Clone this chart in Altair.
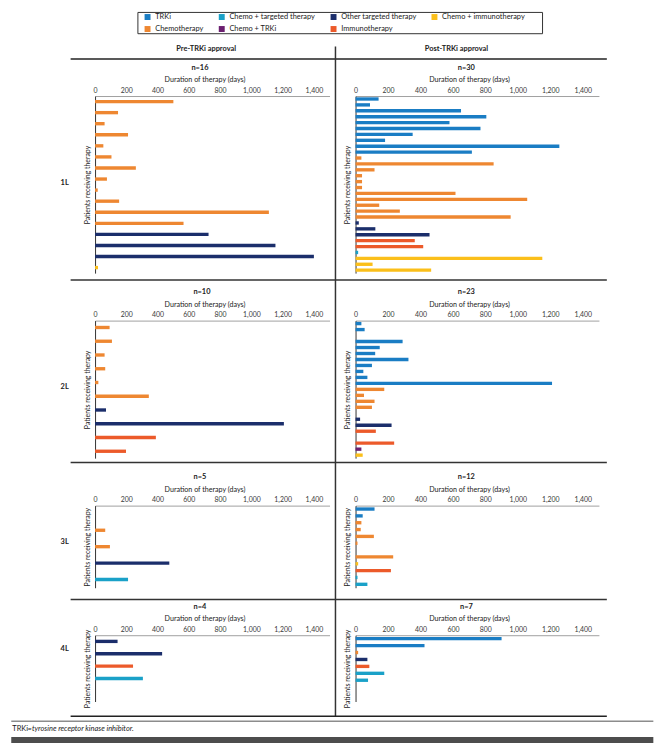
import altair as alt
import pandas as pd

# ---------------- data ----------------
THERAPIES = ["TRKi", "Chemo + targeted therapy", "Other targeted therapy", "Chemo + immunotherapy",
             "Chemotherapy", "Chemo + TRKi", "Immunotherapy"]
COLORS = ["#1a7dc4", "#1aa1c8", "#1b2e6b", "#fbbf1a", "#ee8731", "#6b1f70", "#ec5a2a"]

T = "TRKi"
C = "Chemotherapy"
CT = "Chemo + targeted therapy"
CR = "Chemo + TRKi"
O = "Other targeted therapy"
I = "Immunotherapy"
CI = "Chemo + immunotherapy"

pre_1L_therapy = [C, C, C, C, C, C, C, C, C, C, C, C, O, O, O, CI]
pre_1L_days = [501, 147, 61, 211, 53, 105, 261, 76, 17, 154, 1112, 566, 726, 1154, 1400, 19]

post_1L_therapy = [T, T, T, T, T, T, T, T, T, T,
                   C, C, C, C, C, C, C, C, C, C, C,
                   O, O, O, I, I, CT, CI, CI, CI]
post_1L_days = [142, 89, 650, 806, 579, 770, 352, 182, 1256, 717,
                36, 851, 117, 40, 40, 40, 616, 1058, 146, 273, 956,
                20, 122, 456, 365, 417, 16, 1151, 105, 466]

pre_2L_therapy = [C, C, C, C, C, C, O, O, I, I]
pre_2L_days = [93, 108, 61, 65, 21, 344, 70, 1208, 389, 198]

post_2L_therapy = [T, T, T, T, T, T, T, T, T, T, T,
                   C, C, C, C, C, O, O, I, I, I, CR, CI]
post_2L_days = [36, 56, 0, 290, 149, 121, 326, 101, 48, 73, 1211,
                177, 52, 117, 101, 0, 28, 222, 125, 0, 238, 36, 44]

pre_3L_therapy = [C, C, C, O, CT]
pre_3L_days = [0, 65, 95, 475, 211]

post_3L_therapy = [T, T, C, C, C, C, C, C, CI, I, CT, CT]
post_3L_days = [117, 44, 36, 32, 113, 12, 0, 232, 16, 218, 12, 73]

pre_4L_therapy = [O, O, I, CT]
pre_4L_days = [144, 429, 243, 306]

post_4L_therapy = [T, T, C, O, I, CT, CT]
post_4L_days = [900, 425, 16, 73, 85, 177, 77]

TICKS = [0, 200, 400, 600, 800, 1000, 1200, 1400]
FONT = "Lato"

# ---------------- layout (pixels) ----------------
PRE_W, POST_W = 237, 246
ROW_H = [179, 139, 83, 67]
OX, OY = 92.7, 93.0  # page position of first panel's plot origin

one = pd.DataFrame({"k": [0]})


def hline(x1, x2, y, color="#333333", sw=1.5):
    return alt.Chart(one).mark_rule(color=color, strokeWidth=sw).encode(
        x=alt.value(x1 - OX), x2=alt.value(x2 - OX), y=alt.value(y - OY))


def vline(x, y1, y2, color="#333333", sw=1.5):
    return alt.Chart(one).mark_rule(color=color, strokeWidth=sw).encode(
        x=alt.value(x - OX), y=alt.value(y1 - OY), y2=alt.value(y2 - OY))


def text(x, y, s, size=7.5, weight="normal", align="center", style="normal", color="#222222"):
    return alt.Chart(one).mark_text(font=FONT, fontSize=size, fontWeight=weight, align=align,
                                    baseline="middle", fontStyle=style, color=color).encode(
        x=alt.value(x - OX), y=alt.value(y - OY), text=alt.value(s))


def panel(therapy, days, width, height, n_label, n_x, pad_outer=0.0, extra=0):
    df = pd.DataFrame({"patient": list(range(len(days))), "therapy": therapy, "days": days})
    bars = alt.Chart(df).mark_bar(size=3.4).encode(
        x=alt.X("days:Q",
                scale=alt.Scale(domain=[0, 1500], nice=False, zero=True),
                axis=alt.Axis(orient="top", values=TICKS, format=",.0f", grid=False, ticks=False, tickSize=0,
                              labelFlush=False, labelPadding=3, labelFont=FONT, labelFontSize=7,
                              labelColor="#3a3a3a", domainColor="#a0a0a0", domainWidth=1,
                              title="Duration of therapy (days)", titleFont=FONT, titleFontSize=7.2,
                              titleFontWeight="normal", titleColor="#222222",
                              titleX=width * 1400 / 1500 / 2, titleY=-12.5, titleBaseline="bottom",
                              titleAlign="center")),
        y=alt.Y("patient:O",
                scale=alt.Scale(domain=list(range(len(days) + extra)), paddingInner=0,
                                paddingOuter=pad_outer, align=0),
                axis=alt.Axis(labels=False, ticks=False, grid=False, domainColor="#333333", domainWidth=1,
                              title="Patients receiving therapy", titleFont=FONT, titleFontSize=7,
                              titleFontWeight="normal", titleColor="#222222", titlePadding=5)),
        color=alt.Color("therapy:N",
                        scale=alt.Scale(domain=THERAPIES, range=COLORS),
                        legend=alt.Legend(orient="none", legendX=142 - OX, legendY=9 - OY,
                                          direction="horizontal", columns=4, title=None,
                                          labelFont=FONT, labelFontSize=7.5,
                                          labelColor="#222222", symbolType="square", symbolSize=36,
                                          symbolStrokeWidth=0, columnPadding=14, rowPadding=3.5,
                                          padding=0, labelOffset=4, labelLimit=300)),
    )
    ntext = alt.Chart(one).mark_text(font=FONT, fontSize=7.5, fontWeight="bold", align="center",
                                     baseline="middle", color="#222222").encode(
        x=alt.value(n_x), y=alt.value(-28.5), text=alt.value(n_label))
    return bars, ntext


# panels
b, t = panel(pre_1L_therapy, pre_1L_days, PRE_W, ROW_H[0], "n=16", 106)
decor = [
    # legend box
    alt.Chart(one).mark_rect(fillOpacity=0, stroke="#333333", strokeWidth=1).encode(
        x=alt.value(136 - OX), x2=alt.value(545 - OX), y=alt.value(8.5 - OY), y2=alt.value(30 - OY)),
    text(205, 45.7, "Pre-TRKi approval", 7.5, "bold"),
    text(458, 45.5, "Post-TRKi approval", 7.5, "bold"),
    hline(68, 610, 55.5, "#222222", 1.5),
    vline(335.7, 43, 720, "#333333", 1.5),
    hline(68, 610, 279, "#333333", 1.5),
    hline(68, 610, 463.5, "#333333", 1.5),
    hline(68, 610, 602, "#333333", 1.5),
    hline(68, 610, 720, "#222222", 1.5),
    hline(8, 657, 725, "#8c8c8c", 1.5),
    hline(8, 657, 744, "#4d4d4d", 6),
    text(9, 733, "TRKi", 7.5, "normal", "left"),
    text(24.5, 733, "=tyrosine receptor kinase inhibitor.", 7.5, "normal", "left", "italic"),
    text(62, 181, "1L", 7.5, "bold"),
    text(62, 387, "2L", 7.5, "bold"),
    text(62, 544, "3L", 7.5, "bold"),
    text(62, 652, "4L", 7.5, "bold"),
]
p1 = alt.layer(b, t, *decor).properties(width=PRE_W, height=ROW_H[0])

b, t = panel(post_1L_therapy, post_1L_days, POST_W, ROW_H[0], "n=30", 112)
q1 = alt.layer(b, t).properties(width=POST_W, height=ROW_H[0])

b, t = panel(pre_2L_therapy, pre_2L_days, PRE_W, ROW_H[1], "n=10", 108)
p2 = alt.layer(b, t).properties(width=PRE_W, height=ROW_H[1])

b, t = panel(post_2L_therapy, post_2L_days, POST_W, ROW_H[1], "n=23", 112)
q2 = alt.layer(b, t).properties(width=POST_W, height=ROW_H[1])

b, t = panel(pre_3L_therapy, pre_3L_days, PRE_W, ROW_H[2], "n=5", 106)
p3 = alt.layer(b, t).properties(width=PRE_W, height=ROW_H[2])

b, t = panel(post_3L_therapy, post_3L_days, POST_W, ROW_H[2], "n=12", 112)
q3 = alt.layer(b, t).properties(width=POST_W, height=ROW_H[2])

b, t = panel(pre_4L_therapy, pre_4L_days, PRE_W, ROW_H[3], "n=4", 106, pad_outer=0.68)
p4 = alt.layer(b, t).properties(width=PRE_W, height=ROW_H[3])

b, t = panel(post_4L_therapy, post_4L_days, POST_W, ROW_H[3], "n=7", 112, pad_outer=0.285, extra=2)
q4 = alt.layer(b, t).properties(width=POST_W, height=ROW_H[3])

chart = alt.concat(p1, q1, p2, q2, p3, q3, p4, q4, columns=2, bounds="flush", align="each",
                   spacing={"row": 48, "column": 26.3}, padding=0).configure_view(strokeWidth=0)

chart.save("out.html", embed_options={"renderer": "svg", "actions": False})
